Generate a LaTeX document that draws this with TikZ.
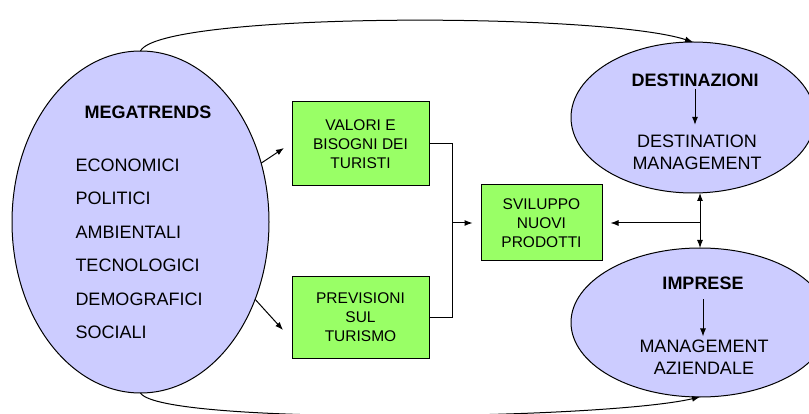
\documentclass[tikz,border=0pt]{standalone}
\usepackage{fontspec}
\setmainfont{Liberation Sans}
\usetikzlibrary{positioning, shapes, arrows.meta, calc}

\definecolor{lilla}{HTML}{CCCCFF}
\definecolor{verde}{HTML}{99FF66}

\begin{document}
\begin{tikzpicture}[x=1pt, y=-1pt, line width=1pt, >={Latex[length=8pt,width=6pt]}]
	\tikzstyle{blob} = [draw, ellipse, fill=lilla, inner sep=0pt, outer sep=0pt];
	\tikzstyle{box} = [draw, rectangle, fill=verde, align=center, inner sep=0pt, font=\fontsize{15.5}{19}\selectfont];
	\tikzstyle{big} = [inner sep=0pt, font=\fontsize{18}{21.5}\selectfont];
	\tikzstyle{title} = [inner sep=0pt, font=\fontsize{18}{21}\selectfont\bfseries];
	
	\useasboundingbox (0,0) rectangle (809,414);
	
	\node[blob, minimum width=257pt, minimum height=342pt] (mega) at (140.5,222) {};
	\node[blob, minimum width=244pt, minimum height=151pt] (dest) at (693,117.5) {};
	\node[blob, minimum width=258pt, minimum height=149pt] (impr) at (700,322.5) {};
	
	\node[box, minimum width=137pt, minimum height=84pt] (val) at (360.5,144) {VALORI E\\BISOGNI DEI\\TURISTI};
	\node[box, minimum width=137pt, minimum height=81pt] (prev) at (360.5,317.5) {PREVISIONI\\SUL\\TURISMO};
	\node[box, minimum width=121pt, minimum height=76pt] (prod) at (541.5,223) {SVILUPPO\\NUOVI\\PRODOTTI};
	
	% megatrends
	\node[title] (mt) at (148,112) {MEGATRENDS};
	\foreach \w [count=\i] in {ECONOMICI, POLITICI, AMBIENTALI, TECNOLOGICI, DEMOGRAFICI, SOCIALI}
	{
		\node[big, anchor=west] (m\i) at (75, 131.5+33.5*\i) {\w};
	}
	
	% destinazioni / imprese
	\node[title] (dt) at (695,80) {DESTINAZIONI};
	\node[big, align=center] (db) at (697,152.5) {DESTINATION\\MANAGEMENT};
	\node[title] (it) at (703,283.5) {IMPRESE};
	\node[big, align=center] (ib) at (704,357) {MANAGEMENT\\AZIENDALE};
	
	\draw[->, shorten <=2pt, shorten >=10pt] (dt.south) -- (dt.south |- db.north);
	\draw[->, shorten <=9pt, shorten >=3pt] (it.south) -- (it.south |- ib.north);
	
	% frecce
	\coordinate (t1) at (284,148);
	\coordinate (t2) at (283,330);
	\draw[->] (mega.26) -- (t1);
	\draw[->] (mega.-34) -- (t2);
	
	\coordinate (j) at (452,223);
	\draw (val.east) -| (j);
	\draw (prev.east) -| (j);
	\draw[->, shorten >=8pt] (j) -- (prod.west);
	
	\draw[<->] (impr.north |- dest.south) -- (impr.north);
	\draw[->, shorten >=8pt] (impr.north |- prod.east) -- (prod.east);
	
	\draw[->] (mega.north) .. controls (160,12) and (600,12) .. (dest.north);
	\draw[->] (mega.south) .. controls (160,425) and (600,420) .. (impr.south);
	
\end{tikzpicture}
\end{document}
